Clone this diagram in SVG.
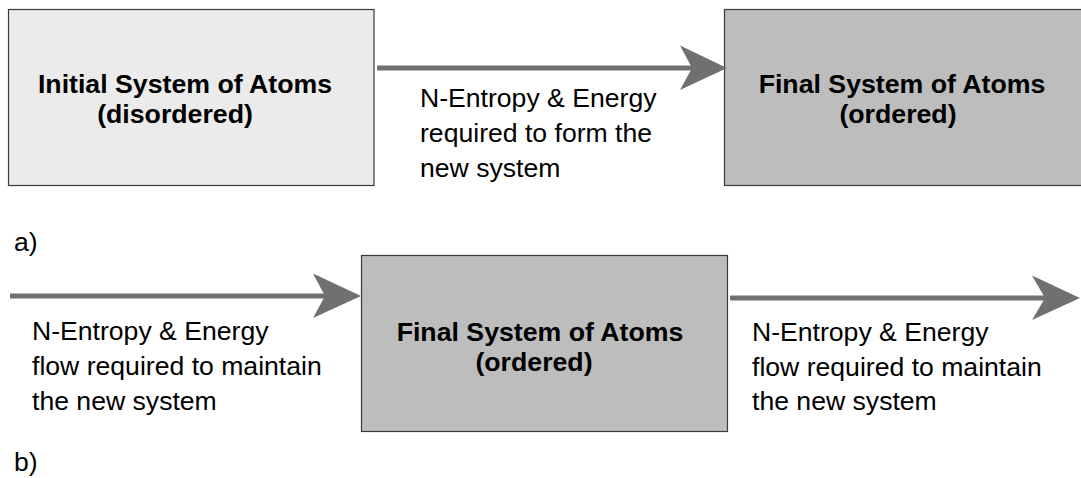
<svg xmlns="http://www.w3.org/2000/svg" width="1081" height="478" viewBox="0 0 1081 478">
  <style>
    .box { stroke: #3a3a3a; stroke-width: 1.2; }
    .light { fill: #ebebeb; }
    .dark { fill: #bdbdbd; }
    .title { font-family: "Liberation Sans", Arial, sans-serif; font-size: 26.7px; font-weight: bold; fill: #000; text-anchor: middle; }
    .label { font-family: "Liberation Sans", Arial, sans-serif; font-size: 26.6px; fill: #000; }
    .shaft { stroke: #707070; stroke-width: 4.8; fill: none; }
    .head { fill: #707070; }
  </style>
  <rect width="1081" height="478" fill="#ffffff"/>

  <!-- part a -->
  <g id="initial-system">
    <rect class="box light" x="8.5" y="9.5" width="365.5" height="176"/>
    <text class="title" x="185" y="93">Initial System of Atoms</text>
    <text class="title" x="175" y="123">(disordered)</text>
  </g>
  <g id="final-system-a">
    <rect class="box dark" x="724.5" y="9.5" width="360" height="176"/>
    <text class="title" x="902" y="93">Final System of Atoms</text>
    <text class="title" x="898" y="123">(ordered)</text>
  </g>
  <g id="label-a">
    <text class="label" x="420" y="107">N-Entropy &amp; Energy</text>
    <text class="label" x="420" y="142">required to form the</text>
    <text class="label" x="420" y="177">new system</text>
  </g>
  <text class="label" x="14" y="251">a)</text>

  <!-- part b -->
  <g id="final-system-b">
    <rect class="box dark" x="361.5" y="255.5" width="366" height="176"/>
    <text class="title" x="540" y="341">Final System of Atoms</text>
    <text class="title" x="534" y="371">(ordered)</text>
  </g>
  <g id="label-b-in">
    <text class="label" x="32" y="340">N-Entropy &amp; Energy</text>
    <text class="label" x="32" y="375">flow required to maintain</text>
    <text class="label" x="32" y="410">the new system</text>
  </g>
  <g id="label-b-out">
    <text class="label" x="752" y="341">N-Entropy &amp; Energy</text>
    <text class="label" x="752" y="376">flow required to maintain</text>
    <text class="label" x="752" y="410">the new system</text>
  </g>
  <text class="label" x="14" y="471">b)</text>

  <!-- connectors -->
  <g id="connectors">
    <line class="shaft" x1="377" y1="68" x2="692" y2="68"/>
    <polygon class="head" points="680,45.5 727,68 680,90 692,68"/>
    <line class="shaft" x1="10" y1="296" x2="325" y2="296"/>
    <polygon class="head" points="313,273.5 361,296 313,318 325,296"/>
    <line class="shaft" x1="730" y1="298" x2="1045" y2="298"/>
    <polygon class="head" points="1032,275.5 1080,298 1032,320 1045,298"/>
  </g>
</svg>
